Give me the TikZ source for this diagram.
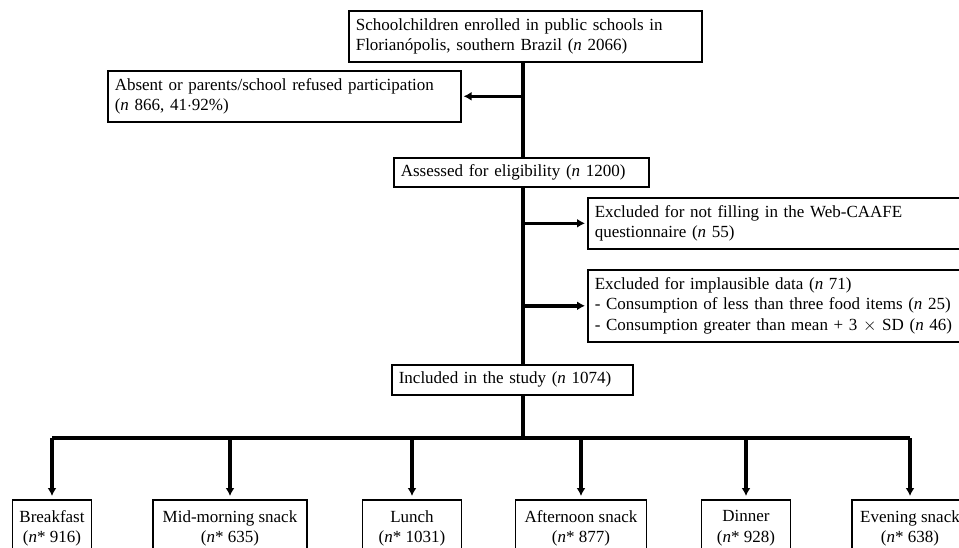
\documentclass[tikz,border=0pt]{standalone}
\usepackage{fontspec}
\setmainfont{Liberation Serif}
\usetikzlibrary{positioning,arrows.meta}
\tikzset{>={Latex[length=8pt,width=9pt]}}
\tikzset{
  box/.style={draw, line width=1.6pt, inner xsep=7pt, inner ysep=3pt,
    align=left, anchor=north west, font=\fontsize{17}{20.5}\selectfont},
  meal/.style={box, align=center, anchor=north, minimum height=57pt},
  flow/.style={line width=3.6pt},
}
\newcommand{\nn}{\textit{n}}
\begin{document}
\begin{tikzpicture}[x=1pt,y=-1pt]
  \useasboundingbox (0,0) rectangle (959,547);

  % Boxes
  \node[box, text width=339pt, minimum height=51pt] (enrolled) at (348,10)
    {Schoolchildren enrolled in public schools in\\Florian\'opolis, southern Brazil (\nn{} 2066)};
  \node[box, text width=339pt, minimum height=51pt] (absent) at (107,70)
    {Absent or parents/school refused participation\\(\nn{} 866, 41$\cdot$92\%)};
  \node[box, text width=241pt, minimum height=29pt] (assessed) at (393,157)
    {Assessed for eligibility (\nn{} 1200)};
  \node[box, text width=380pt, minimum height=51pt] (webcaafe) at (587,197)
    {Excluded for not filling in the Web-CAAFE\\questionnaire (\nn{} 55)};
  \node[box, text width=380pt, minimum height=72pt] (implaus) at (587,269)
    {Excluded for implausible data (\nn{} 71)\\- Consumption of less than three food items (\nn{} 25)\\- Consumption greater than mean + 3 $\times$ SD (\nn{} 46)};
  \node[box, text width=227pt, minimum height=30pt] (included) at (391,364)
    {Included in the study (\nn{} 1074)};

  % Meals
  \node[meal, minimum width=79pt]  (breakfast) at (52,499)  {Breakfast\\(\nn* 916)};
  \node[meal, minimum width=154pt] (midmorn)   at (230,499) {Mid-morning snack\\(\nn* 635)};
  \node[meal, minimum width=99pt]  (lunch)     at (412,499) {Lunch\\(\nn* 1031)};
  \node[meal, minimum width=131pt] (afternoon) at (581,499) {Afternoon snack\\(\nn* 877)};
  \node[meal, minimum width=89pt]  (dinner)    at (746,499) {Dinner\\(\nn* 928)};
  \node[meal, minimum width=116pt] (evening)   at (910,499) {Evening snack\\(\nn* 638)};

  \coordinate (spine) at (523,61);
  \coordinate (bar) at (523,438);

  % Edges
  \draw[flow] (spine) -- (spine |- assessed.north);
  \draw[flow] (spine |- assessed.south) -- (spine |- included.north);
  \draw[flow] (spine |- included.south) -- (bar);
  \draw[flow,->,shorten >=2pt] (spine |- absent.east) -- (absent.east);
  \draw[flow,->,shorten >=2pt] (spine |- webcaafe.west) -- (webcaafe.west);
  \draw[flow,->,shorten >=2pt] (spine |- implaus.west) -- (implaus.west);
  \draw[flow] (breakfast.north |- bar) -- (evening.north |- bar);
  \foreach \m in {breakfast,midmorn,lunch,afternoon,dinner,evening}
    \draw[flow,->,shorten >=3pt] (\m.north |- bar) -- (\m.north);
\end{tikzpicture}
\end{document}
